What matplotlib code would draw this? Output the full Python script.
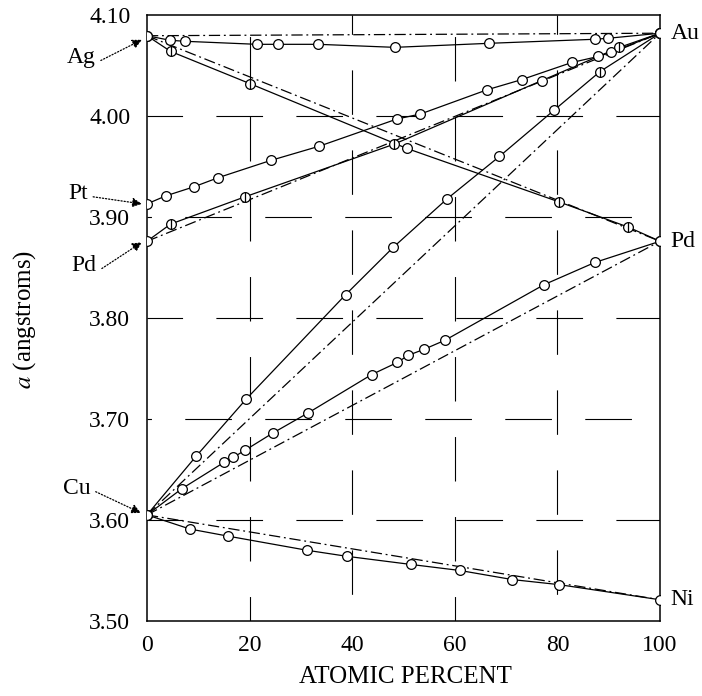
import matplotlib
matplotlib.use("Agg")
import matplotlib.pyplot as plt
import numpy as np

# ---------------- data ----------------
# end-member lattice parameters (angstroms)
ag_a, au_a, pt_a, pd_a, cu_a, ni_a = 4.0795, 4.082, 3.913, 3.876, 3.605, 3.521

# Ag-Au
agau_x = [0, 4.5, 7.4, 21.4, 25.6, 33.4, 48.3, 66.7, 87.3, 89.9, 100]
agau_y = [4.0795, 4.075, 4.074, 4.071, 4.071, 4.071, 4.068, 4.072, 4.076, 4.077, 4.082]

# Ag-Pd
agpd_x = [0, 4.6, 20.1, 50.6, 80.3, 93.8, 100]
agpd_y = [4.0795, 4.064, 4.032, 3.968, 3.915, 3.890, 3.876]

# Pt-Au
ptau_x = [0, 3.7, 9.2, 13.9, 24.1, 33.5, 48.7, 53.3, 66.3, 73.0, 82.8, 88.0, 90.4, 100]
ptau_y = [3.913, 3.921, 3.930, 3.939, 3.956, 3.970, 3.997, 4.002, 4.026, 4.036, 4.053, 4.059, 4.063, 4.082]

# Pd-Au
pdau_x = [0, 4.6, 19.1, 48.1, 76.9, 92.1, 100]
pdau_y = [3.876, 3.893, 3.920, 3.972, 4.035, 4.068, 4.082]

# Cu-Au
cuau_x = [0, 9.55, 19.3, 38.7, 48.0, 58.5, 68.7, 79.4, 88.3, 100]
cuau_y = [3.605, 3.663, 3.7195, 3.823, 3.870, 3.918, 3.960, 4.006, 4.044, 4.082]

# Cu-Pd
cupd_x = [0, 6.8, 15.0, 16.8, 19.1, 24.5, 31.4, 43.8, 48.8, 50.9, 54.0, 58.1, 77.4, 87.3, 100]
cupd_y = [3.605, 3.631, 3.657, 3.662, 3.669, 3.686, 3.706, 3.744, 3.756, 3.763, 3.769, 3.778, 3.833, 3.855, 3.876]

# Cu-Ni
cuni_x = [0, 8.4, 15.8, 31.2, 39.0, 51.4, 61.0, 71.2, 80.3, 100]
cuni_y = [3.605, 3.591, 3.584, 3.570, 3.564, 3.556, 3.550, 3.541, 3.536, 3.521]

xticks = [0, 20, 40, 60, 80, 100]
yticks = [3.50, 3.60, 3.70, 3.80, 3.90, 4.00, 4.10]
ytick_labels = ["3.50", "3.60", "3.70", "3.80", "3.90", "4.00", "4.10"]

# ---------------- style ----------------
plt.rcParams['font.family'] = ['Liberation Serif', 'DejaVu Serif']
plt.rcParams['mathtext.fontset'] = 'stix'
fig = plt.figure(figsize=(7.02, 6.96), dpi=100)
ax = fig.add_axes([0.2094, 0.1078, 0.7308, 0.8706])
ax.set_xlim(0, 100)
ax.set_ylim(3.50, 4.10)

lw = 0.9
vegard_ls = (0, (9, 3, 1.5, 3))

# broken grid
grid_kw = dict(color='black', lw=0.8, zorder=0)
for i, gx in enumerate(xticks[1:-1]):
    ax.axvline(gx, ls=(18 + 30 * (i % 2), (40, 32)), **grid_kw)
for i, gy in enumerate(yticks[1:-1]):
    ax.axhline(gy, ls=(10 + 28 * (i % 2), (42, 30)), **grid_kw)

def vegard(x0y, x1y):
    ax.plot([0, 100], [x0y, x1y], color='black', lw=lw, ls=vegard_ls, zorder=2)

def series(x, y, crossed_idx=()):
    ax.plot(x, y, color='black', lw=lw, zorder=3)
    ax.plot(x, y, ls='none', marker='o', ms=7, mfc='white', mec='black', mew=0.9, zorder=4)
    if crossed_idx:
        cx = [x[i] for i in crossed_idx]
        cy = [y[i] for i in crossed_idx]
        ax.plot(cx, cy, ls='none', marker='|', ms=7, mec='black', mew=0.9, zorder=5)

vegard(ag_a, au_a)
vegard(ag_a, pd_a)
vegard(pd_a, au_a)
vegard(cu_a, au_a)
vegard(cu_a, pd_a)
vegard(cu_a, ni_a)

series(agau_x, agau_y)
series(agpd_x, agpd_y, crossed_idx=(1, 2, 4, 5))
series(ptau_x, ptau_y)
series(pdau_x, pdau_y, crossed_idx=(1, 2, 3, 5))
series(cuau_x, cuau_y, crossed_idx=(8,))
series(cupd_x, cupd_y)
series(cuni_x, cuni_y)

# axes cosmetics
ax.set_xticks(xticks)
ax.set_yticks(yticks)
ax.set_yticklabels(ytick_labels)
ax.tick_params(length=0, labelsize=17)
ax.tick_params(axis='y', pad=12)
ax.tick_params(axis='x', pad=10)
for s in ax.spines.values():
    s.set_linewidth(1.1)

ax.set_xlabel("ATOMIC PERCENT", fontsize=18)
ax.xaxis.set_label_coords(0.504, -0.074)
ax.set_ylabel(r"$a$ (angstroms)", fontsize=18)
ax.yaxis.set_label_coords(-0.212, 0.497)

# element labels
lab_kw = dict(fontsize=17, clip_on=False)
ax.text(102.0, au_a, "Au", ha='left', va='center', **lab_kw)
ax.text(102.0, pd_a, "Pd", ha='left', va='center', **lab_kw)
ax.text(102.0, ni_a, "Ni", ha='left', va='center', **lab_kw)

arrow_kw = dict(arrowstyle='-|>', color='black', lw=0.9, ls=(0, (1, 1.5)),
                mutation_scale=14, shrinkA=0, shrinkB=0)
for name, tx, ty, hx, hy in [("Ag", -10.0, 4.058, -1.0, ag_a - 0.004),
                             ("Pt", -11.5, 3.923, -1.0, pt_a),
                             ("Pd", -9.8, 3.852, -1.0, pd_a - 0.001),
                             ("Cu", -11.0, 3.631, -1.2, cu_a + 0.002)]:
    ax.text(tx, ty, name, ha='right', va='center', **lab_kw)
    ax.annotate("", xy=(hx, hy), xytext=(tx + 1.0, ty - 0.003),
                arrowprops=arrow_kw, annotation_clip=False)

fig.savefig("out.png", dpi=100)
